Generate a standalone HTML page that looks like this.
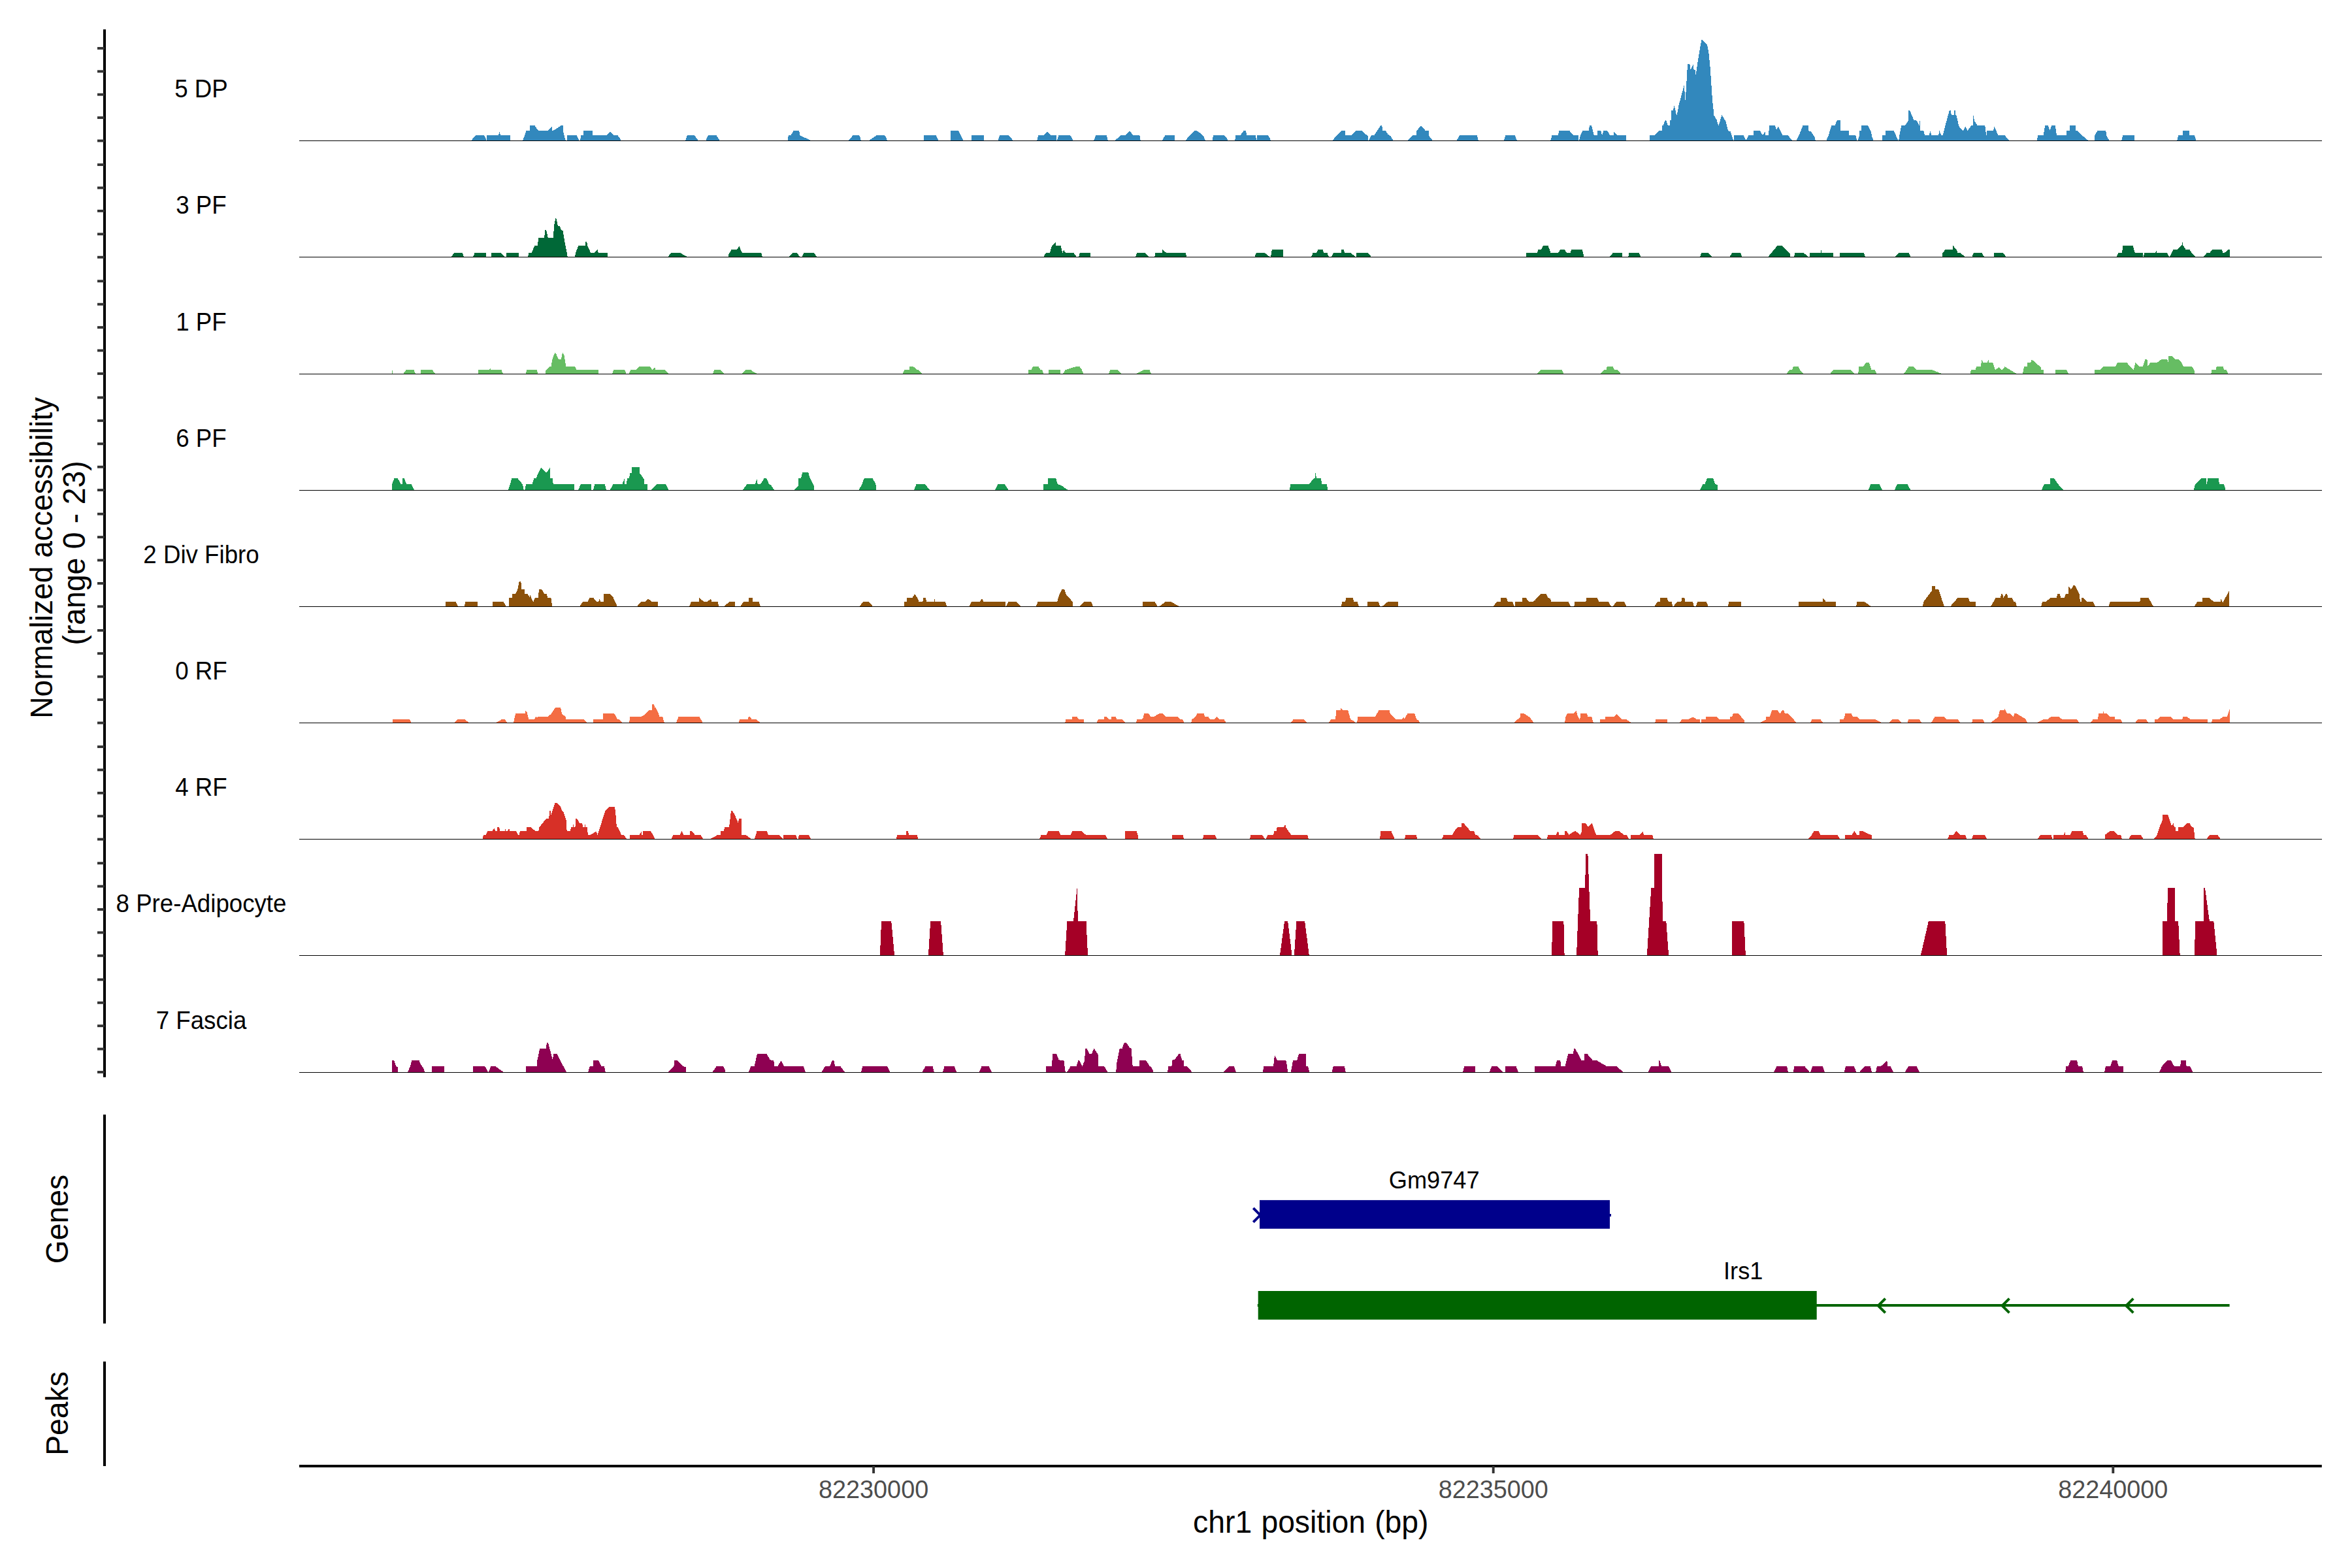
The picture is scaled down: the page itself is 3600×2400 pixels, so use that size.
<!DOCTYPE html>
<html><head><meta charset="utf-8"><title>Coverage plot</title>
<style>html,body{margin:0;padding:0;background:#fff}svg{display:block}</style></head>
<body>
<svg width="3600" height="2400" viewBox="0 0 3600 2400">
<rect width="3600" height="2400" fill="#fff"/>
<path d="M720.9,215.5 727.8,207.3 741.3,207.3 743.4,211.4 743.9,215.5ZM745.2,215.5 745.2,207.3 763,207.3 764.3,201.2 766.3,207.3 780.9,207.3 780.9,215.5ZM800,215.5 805.6,200.2 811.2,200.2 811.2,192.3 818.4,192.3 824,200.2 838.8,200.2 844.6,194.3 844.6,200.2 846.4,200.2 858.7,192.3 861.5,192.3 862.5,203.3 865.8,215.5ZM868.1,215.5 868.1,207.3 882.9,207.3 886.7,215.5ZM888,215.5 889.3,207.3 893.1,207.3 893.1,200.2 906.6,200.2 906.6,207.3 928.8,207.3 933.7,201.5 939.5,207.3 945.4,207.3 948.5,210.9 951,215.5ZM1049.2,215.5 1051.8,207.3 1063.3,207.3 1068.9,215.5ZM1080.1,215.5 1083.7,207.3 1096.4,207.3 1102,215.5ZM1206.1,215.5 1206.6,207.3 1210.5,207.3 1214.3,200.2 1223.2,200.2 1224.5,207.3 1242.3,215.5ZM1298,215.5 1305.6,207.3 1315.1,207.3 1316.8,210.9 1317.9,215.5ZM1329.1,215.5 1341.8,207.3 1354.1,207.3 1356.6,210.9 1357.9,215.5ZM1414,215.5 1414,207.3 1432.4,207.3 1434.7,210.9 1437,215.5ZM1455.1,215.5 1455.1,200.2 1467.3,200.2 1471.4,208.4 1475,215.5ZM1487.2,215.5 1487.2,207.3 1505.6,207.3 1505.6,215.5ZM1527.3,215.5 1530.1,207.3 1544.1,207.3 1548.5,212.2 1551,215.5ZM1587.2,215.5 1589.3,207.3 1596.9,207.3 1602.6,201.5 1608.4,207.3 1616.6,207.3 1616.6,215.5ZM1617.9,215.5 1620.4,207.3 1638.3,207.3 1642.9,215.5ZM1674,215.5 1677.3,207.3 1693.9,207.3 1695.9,215.5ZM1705.9,215.5 1715.6,207.3 1722.4,207.3 1728.8,200.2 1734.7,207.3 1744.4,207.3 1745.7,215.5ZM1778.8,215.5 1783.2,207.3 1797.7,207.3 1797.7,215.5ZM1813.8,215.5 1827.8,200.2 1831.6,200.2 1836.7,203.3 1842.3,208.4 1844.9,215.5ZM1855.6,215.5 1857.1,207.3 1874.2,207.3 1878.1,212.2 1879.8,215.5ZM1890.1,215.5 1891.3,207.3 1898.5,207.3 1903.6,200.2 1906.9,200.2 1908.7,207.3 1922.2,207.3 1922.7,213.5 1924,213.5 1924,207.3 1941.3,207.3 1943.9,212.2 1944.9,215.5ZM2038.8,215.5 2052.8,200.2 2058.7,200.2 2058.7,207.3 2068.1,207.3 2075.8,200.2 2084.7,200.2 2093.6,208.4 2094.1,215.5ZM2094.9,215.5 2098.7,207.3 2103.3,207.3 2113.3,192.3 2115.3,192.3 2116.6,200.2 2120.9,200.2 2124.2,205.3 2128.6,208.4 2132.7,215.5ZM2153.6,215.5 2162.5,207.3 2168.1,207.3 2168.1,200.2 2175.3,192.3 2182.1,200.2 2186.7,200.2 2186.7,207.3 2193.1,215.5ZM2229.3,215.5 2233.9,207.3 2260.7,207.3 2262.8,215.5ZM2302,215.5 2304.1,207.3 2318.9,207.3 2321.9,215.5ZM2373,215.5 2375.5,207.3 2384.4,207.3 2386.5,200.2 2402.3,200.2 2407.4,206.3 2412.5,207.3 2415.6,207.3 2415.6,215.5ZM2416.8,215.5 2418.9,207.3 2422.2,200.2 2431.6,200.2 2432.9,192.3 2436,192.3 2439.8,207.3 2444.9,207.3 2444.9,200.2 2450,200.2 2450,200.2 2450.8,200.7 2452,207.3 2454.3,200.2 2459.4,200.2 2461.5,202.2 2464.5,207.3 2469.9,207.3 2469.9,201.2 2476,207.3 2488.8,207.3 2488.8,215.5ZM2525.3,215.5 2525.3,207.3 2532.1,207.3 2538.8,200.2 2544.1,200.2 2544.1,192.3 2545.7,192.3 2548.7,184.1 2550,184.1 2553.1,192.3 2556.1,192.3 2556.1,184.4 2558.2,184.4 2558.2,169.3 2561,169.3 2562.2,161.9 2562.8,161.9 2566.1,176.2 2566.8,176.2 2569.6,160.7 2577.6,131.1 2578.1,131.1 2579.1,153.3 2579.8,153.3 2581.4,126.5 2582.1,112.7 2583.2,98.2 2585.7,98.2 2586.7,99.2 2587.2,106.3 2588,106.3 2591.1,99.2 2591.8,99.2 2592.1,106.3 2593.9,106.6 2594.9,107.6 2595.2,114.2 2595.9,114.2 2598.2,96.4 2604.3,61.2 2605.4,61.2 2612.8,68.3 2615.1,78.5 2617.3,98.9 2619.1,124.9 2620.9,152.2 2623.5,176.7 2627.3,182.8 2630.4,192.3 2635.5,176.2 2641.3,185.4 2645.2,200.2 2648.5,201.2 2651.5,209.6 2653.3,215.5ZM2654.1,215.5 2654.1,207.3 2668.6,207.3 2672.4,214.7 2676.5,207.3 2684.2,207.3 2684.2,200.2 2694.1,200.2 2698,207.3 2701.3,201.5 2702.6,207.3 2706.9,207.3 2708.2,192.3 2717.1,192.3 2719.1,199.4 2721.7,193.6 2728.6,207.3 2737,207.3 2743.4,215.5ZM2749,215.5 2753.6,207.3 2759.4,192.3 2767.6,192.3 2767.6,200.2 2771.9,201.2 2777.3,209.6 2779.1,215.5ZM2795.2,215.5 2798.7,207.3 2803.3,192.3 2808.4,192.3 2811.7,184.4 2816.6,184.4 2816.6,200.2 2829.6,200.2 2829.6,207.3 2840.3,207.3 2842.3,215.5ZM2843.4,215.5 2846.2,207.3 2846.2,200.2 2849.2,200.2 2849.2,192.3 2859.4,192.3 2863.8,201.2 2865.3,209.6 2867.9,215.5ZM2881.1,215.5 2881.1,207.3 2886.2,207.3 2886.2,200.2 2898.5,200.2 2902,207.3 2905.4,215.5ZM2906.1,215.5 2907.9,203.3 2910.5,192.3 2915.6,192.3 2921.2,184.4 2921.2,169.3 2923.2,169.3 2929.6,184.4 2933.4,184.4 2937.8,192.3 2938.5,185.4 2939,200.2 2944.4,200.2 2946.2,207.3 2952.6,207.3 2954.3,200.2 2956.4,207.3 2967.1,207.3 2968.4,200.2 2971.7,207.3 2973.7,207.3 2978.6,187.9 2983.7,169.3 2985.7,169.3 2987,176.2 2990.8,176.2 2991.3,169.3 2992.9,169.3 2992.9,176.2 2994.6,176.7 2998,192.3 3000,196.1 3005.1,200.2 3008.2,193.6 3011.5,200.2 3017.1,192.3 3019.9,192.3 3020.4,177 3022.4,185.4 3026.8,192.3 3038.3,192.3 3040.1,207.3 3041.3,207.3 3041.3,200.2 3051,200.2 3052.3,193.6 3058.7,207.3 3068.4,207.3 3076,215.5ZM3117.9,215.5 3119.1,207.3 3127.6,207.3 3130.1,192.3 3135.2,192.3 3137.2,200.2 3140.3,192.3 3145.9,192.3 3148,207.3 3163.3,207.3 3163.3,200.2 3168.4,200.2 3168.4,192.3 3176.5,192.3 3176.5,200.2 3179.3,200.2 3188.3,208.4 3196.9,215.5ZM3206.1,215.5 3206.1,207.3 3210.5,200.2 3223.2,200.2 3224.5,208.4 3228.8,215.5ZM3246.9,215.5 3249.5,207.3 3266.6,207.3 3266.6,215.5ZM3332.1,215.5 3334.2,207.3 3341.3,207.3 3341.3,200.2 3350.8,200.2 3350.8,207.3 3358.9,207.3 3361.7,215.5Z" fill="#3288BD" shape-rendering="crispEdges"/>
<line x1="458" x2="3553.8" y1="215.5" y2="215.5" stroke="#000" stroke-width="1" shape-rendering="crispEdges"/>
<path d="M690.8,393.5 694.6,387.4 708.2,387.4 709.9,393.5ZM724,393.5 726.5,387.4 743.6,387.4 743.6,393.5ZM752,393.5 752,387.4 766.8,387.4 773,393.5ZM775,393.5 775,387.4 793.6,387.4 793.6,393.5ZM807.7,393.5 809.4,387.4 813.3,387.4 818.4,376.2 822.7,376.2 824.2,364.2 833.2,364.2 834.2,352.4 836.2,352.4 838.8,364.2 846.9,364.2 848,346.1 850.3,334.1 851.5,334.8 854.1,346.1 857.1,346.6 859.2,352.4 861.5,353.2 863.3,364.2 866.1,379.2 868.9,393.5ZM880.1,393.5 880.9,387.4 885.2,376.2 896.2,376.2 896.2,370 898.2,370.5 899.5,376.7 904.3,387.4 909.2,387.4 914.5,382.3 915.8,387.4 929.8,387.4 929.8,393.5ZM1021.9,393.5 1027,387.4 1041.6,387.4 1052.6,393.5ZM1114.8,393.5 1115.6,388.9 1119.4,382.3 1127.6,382.3 1131.4,376.9 1136,387.4 1165.3,387.4 1166.8,393.5ZM1206.6,393.5 1213,387.4 1219.6,387.4 1225.3,393.5ZM1227.3,393.5 1230.4,387.4 1245.7,387.4 1251,393.5ZM1596.9,393.5 1600.8,387.4 1606.6,387.4 1610.2,376.2 1615.6,371.1 1615.6,376.2 1623.7,376.2 1626.3,387.4 1628.1,383 1632.1,387.4 1643.6,387.4 1648,393.5ZM1651,393.5 1652.6,387.4 1668.9,387.4 1668.9,393.5ZM1738,393.5 1740.3,387.4 1752.6,387.4 1758.9,393.5ZM1767.1,393.5 1768.4,387.4 1779.3,387.4 1779.3,382.3 1785.7,387.4 1814.5,387.4 1816.8,393.5ZM1920.2,393.5 1922.7,387.4 1936.2,387.4 1943.9,393.5ZM1944.9,393.5 1946.9,382.3 1963.5,382.3 1963.5,393.5ZM2006.9,393.5 2009.4,387.4 2014.5,387.4 2017.6,382.3 2024.7,382.3 2026.5,387.4 2031.6,387.4 2034.2,393.5ZM2038,393.5 2040.6,387.4 2053.3,387.4 2053.3,382.3 2057.1,382.3 2057.9,387.4 2068.1,387.4 2075,393.5ZM2076.3,393.5 2076.3,387.4 2094.4,387.4 2099.2,393.5ZM2336,393.5 2336,387.4 2353.1,387.4 2354.3,381.8 2358.9,381.8 2362.2,376.2 2369.6,376.2 2373.7,387.4 2384.4,387.4 2388.3,382.3 2394.6,382.3 2398.5,387.4 2404.1,387.4 2404.8,382.3 2421.9,382.3 2424.7,393.5ZM2462.8,393.5 2468.6,387.4 2482.7,387.4 2482.7,393.5ZM2492.1,393.5 2493.4,387.4 2508.7,387.4 2511.7,393.5ZM2601.8,393.5 2604.3,387.4 2615.3,387.4 2621.4,393.5ZM2647.2,393.5 2651,387.4 2664.3,387.4 2666.1,393.5ZM2705.9,393.5 2720.4,376.2 2728.1,376.2 2739.5,388.1 2739.5,393.5ZM2745.9,393.5 2747.2,387.4 2761.2,387.4 2768.4,393.5ZM2770.2,393.5 2770.2,387.4 2787.2,387.4 2787.5,383 2788.5,387.4 2805.9,387.4 2805.9,393.5ZM2816.1,393.5 2816.1,387.4 2853.1,387.4 2854.8,393.5ZM2899.7,393.5 2906.6,387.4 2921.9,387.4 2925,393.5ZM2973,393.5 2973.5,387.4 2977.3,382.3 2989,382.3 2989.5,376.2 2995.4,383 2995.9,387.4 3001,387.4 3008.2,393.5ZM3018.1,393.5 3020.7,387.4 3033.7,387.4 3037.2,393.5ZM3052.3,393.5 3052.3,387.4 3065.6,387.4 3071.4,393.5ZM3239,393.5 3242.3,387.4 3248,387.4 3249.2,376.2 3264.5,376.2 3267.9,387.4 3279.8,387.4 3279.8,393.5ZM3281.1,393.5 3281.9,387.4 3299.2,387.4 3300.3,383 3301,387.4 3317.1,387.4 3320.2,393.5ZM3320.9,393.5 3326.5,382.3 3332.4,382.3 3339.3,375.4 3340.6,371.1 3341.3,375.4 3345.7,382.3 3351.5,382.3 3355.1,387.4 3360.5,393.5ZM3371.7,393.5 3377.6,387.4 3382.1,387.4 3385.7,382.3 3401,382.3 3402.3,387.4 3404.3,387.4 3410.7,382.3 3412.8,382.3 3412.8,393.5Z" fill="#006837" shape-rendering="crispEdges"/>
<line x1="458" x2="3553.8" y1="393.5" y2="393.5" stroke="#000" stroke-width="1" shape-rendering="crispEdges"/>
<path d="M599.7,572.5 599.7,567.1 600.8,567.1 600.8,572.5ZM616.8,572.5 621.4,566.4 633.7,566.4 636,572.5ZM644.4,572.5 644.4,566.4 661.5,566.4 667.3,572.5ZM731.9,572.5 731.9,566.4 747.7,566.4 750.8,563.3 750.8,566.4 767.6,566.4 769.9,572.5ZM804.3,572.5 806.4,566.4 821.7,566.4 823.7,572.5ZM834.4,572.5 835.7,566.4 840.8,561.3 843.4,561.3 845.9,548 849.2,540.1 851,541.1 854.8,550.1 858.7,550.1 861.2,539.3 863.3,542.9 866.3,561.3 879.8,561.3 882.9,566.4 915.6,566.4 915.6,572.5ZM937,572.5 939,566.4 956.4,566.4 958.7,572.5ZM962,572.5 965.3,566.4 973.5,566.4 978.6,561.3 995.2,561.3 998.2,565.9 1003.3,562 1003.3,566.4 1018.1,566.4 1024.5,572.5ZM1090.8,572.5 1093.4,566.4 1103.1,566.4 1109.2,572.5ZM1134.9,572.5 1141.3,566.4 1150,566.4 1150,567.1 1159.4,572.5ZM1381.6,572.5 1384.2,566.4 1391.8,566.4 1391.8,561.3 1398.2,561.3 1403.8,566.4 1406.4,566.4 1412.2,572.5ZM1574,572.5 1574,566.4 1578.6,566.4 1580.6,561.3 1589.5,561.3 1592.6,565.9 1595.2,566.4 1597.7,572.5ZM1605.4,572.5 1605.4,566.4 1622.7,566.4 1622.7,572.5ZM1627,572.5 1630.1,566.4 1646.2,561.3 1652.6,561.3 1655.1,564.6 1658.9,572.5ZM1697.2,572.5 1699,566.4 1710.5,566.4 1717.1,572.5ZM1738,572.5 1750,566.4 1750,566.4 1759.7,566.4 1762,572.5ZM2351.8,572.5 2357.7,566.4 2390.8,566.4 2393.9,572.5ZM2449.5,572.5 2454.6,566.4 2458.4,566.4 2459.7,561.3 2468.6,561.3 2471.2,566.4 2475.8,566.4 2481.4,572.5ZM2733.9,572.5 2739,566.4 2742.9,566.4 2744.6,561.3 2752.6,561.3 2755.1,566.4 2760.7,572.5ZM2800.8,572.5 2805.9,566.4 2832.9,566.4 2839,572.5ZM2844.1,572.5 2845.4,561.3 2851.3,561.3 2856.4,555.2 2861,555.2 2864.8,566.4 2869.9,566.4 2873,572.5ZM2913.8,572.5 2921.4,561.3 2928.6,561.3 2934.2,566.4 2950,566.4 2950,566.4 2957.7,566.4 2973.5,572.5ZM3015.8,572.5 3016.8,566.4 3024,566.4 3024.7,561.3 3031.6,561.3 3033.4,551.1 3035.5,555.2 3041.1,555.2 3043.6,551.3 3043.6,555.2 3050.3,555.2 3054.1,566.4 3059.7,562 3064.3,566.4 3068.6,561.3 3087.2,572.5ZM3095.9,572.5 3098,561.3 3103.1,561.3 3103.1,555.2 3108.2,555.2 3109.9,550.1 3123.5,562 3123.5,566.4 3127.8,566.4 3127.8,572.5ZM3145.9,572.5 3145.9,566.4 3163,566.4 3166.1,572.5ZM3205.9,572.5 3205.9,566.4 3214.5,566.4 3219.6,561.3 3237.8,561.3 3240.8,555.2 3255.4,555.2 3265.6,566.4 3268.4,555.2 3275.3,561.3 3279.8,561.3 3283.4,550.1 3286.7,550.6 3286.7,561.3 3291.3,555.2 3301.5,555.2 3308.4,550.1 3317.3,550.1 3319.1,555.2 3319.1,544.9 3324.5,544.9 3329.3,550.1 3334.4,550.1 3337.8,553.1 3342.1,561.3 3355.1,561.3 3358.9,567.1 3358.9,572.5ZM3384.2,572.5 3385.5,566.4 3391.3,566.4 3392.6,561.3 3402.8,561.3 3404.1,566.4 3407.9,566.4 3411,572.5Z" fill="#66BD63" shape-rendering="crispEdges"/>
<line x1="458" x2="3553.8" y1="572.5" y2="572.5" stroke="#000" stroke-width="1" shape-rendering="crispEdges"/>
<path d="M599.7,750.5 599.7,741.8 603.6,732.1 608.7,732.1 613.8,741.3 615.8,741.3 616.3,732.1 618.9,732.1 622.2,741.3 629.6,741.3 632.1,745.7 634.2,750.5ZM777.8,750.5 780.9,741.3 783.4,732.1 792.3,732.1 800,741.3 801.8,750.5ZM803.1,750.5 805.1,741.3 814.5,741.3 817.3,732.1 820.4,732.1 828.1,715.3 836.5,723.5 841.6,716.3 841.6,732.1 845.9,732.1 846.7,741.3 878.6,741.3 878.6,750.5ZM884.9,750.5 888.8,741.3 904.6,741.3 904.6,750.5ZM907.9,750.5 910.2,741.3 925.8,741.3 928.1,750.5ZM933.4,750.5 938.5,741.3 952.3,741.3 955.6,732.9 955.6,741.3 958.9,741.3 959.9,732.1 963.3,732.1 964,723.5 967.1,723.5 967.1,715.3 978.6,715.3 978.6,723.5 985.5,732.9 985.5,741.3 991.3,741.3 991.3,750.5ZM996.4,750.5 1005.4,741.3 1018.9,741.3 1024,750.5ZM1136.7,750.5 1143.1,741.3 1150,741.3 1150,741.3 1155.6,741.3 1158.4,732.9 1159.7,741.3 1164,741.3 1169.6,732.1 1173,732.1 1177.3,741.3 1179.8,742.3 1185.2,750.5ZM1215.1,750.5 1222.2,743.1 1222.2,732.1 1225.8,732.1 1228.3,723.2 1237.2,723.2 1239.8,732.1 1244.4,740.6 1245.7,743.1 1245.7,750.5ZM1314,750.5 1319.1,741.8 1322.7,732.1 1335.7,732.1 1339.5,739.3 1340.8,743.1 1340.8,750.5ZM1398.7,750.5 1402.6,741.1 1415.3,741.1 1424.2,750.5ZM1523,750.5 1527.6,741.1 1537.8,741.1 1544.1,750.5ZM1596.9,750.5 1596.9,741.3 1604.1,741.3 1604.1,732.1 1616.1,732.1 1618.9,741.3 1624.5,743.1 1635.2,750.5ZM1974,750.5 1975,741.3 2003.8,741.3 2010.2,732.9 2012.8,732.1 2013.5,724 2015.3,732.1 2021.7,732.1 2023.5,741.3 2030.6,741.3 2032.7,750.5ZM2601.8,750.5 2606.4,741.3 2609.4,741.3 2612.8,732.1 2622.2,732.1 2625.5,741.3 2628.6,741.8 2628.6,750.5ZM2859.7,750.5 2863.3,741.3 2876.8,741.3 2881.1,750.5ZM2899.7,750.5 2903.6,741.3 2919.6,741.3 2924.7,750.5ZM3124.7,750.5 3128.6,741.3 3138.3,741.3 3138.3,732.1 3143.9,732.1 3150.8,741.8 3159.2,750.5ZM3357.7,750.5 3359.9,741.3 3369.6,732.1 3376.5,732.1 3376.5,741.3 3377.8,741.3 3379.3,732.1 3395.9,732.1 3396.9,741.3 3404.1,741.3 3405.9,746.9 3405.9,750.5Z" fill="#1A9850" shape-rendering="crispEdges"/>
<line x1="458" x2="3553.8" y1="750.5" y2="750.5" stroke="#000" stroke-width="1" shape-rendering="crispEdges"/>
<path d="M682.1,928.5 682.1,921.4 698,921.4 701,928.5ZM710.7,928.5 712.5,921.4 730.6,921.4 730.6,928.5ZM754.1,928.5 754.1,921.4 770.7,921.4 775,928.5ZM779.1,928.5 779.1,915.2 784.2,915.2 784.2,909.4 789,909.4 792.3,901.7 794.9,889.7 797.4,889.7 798,902.2 802.6,902.2 802.6,909.4 807.7,909.4 810.7,914.5 811,910.1 816.1,921.4 819.1,915.2 823.7,915.2 825,902.2 829.3,902.2 833.2,909.4 837,909.4 838.3,915.2 843.4,915.2 844.6,923.4 844.6,928.5ZM887.2,928.5 891.8,921.4 899.5,921.4 902.6,915.2 908.4,915.2 913.5,921.4 916.1,921.4 917.9,916.3 919.1,921.4 924.2,921.4 924.2,909.4 933.4,909.4 938.5,914.5 944.9,928.5ZM974.7,928.5 981.1,921.4 986.7,921.4 991.8,916.3 998.2,921.4 1006.6,921.4 1006.6,928.5ZM1055.1,928.5 1057.7,921.4 1069.6,921.4 1070.4,915.2 1078.1,921.4 1081.9,921.4 1088.3,916.3 1088.8,921.4 1098.5,921.4 1100.5,928.5ZM1107.4,928.5 1116.3,921.4 1125.3,921.4 1125.3,928.5ZM1132.9,928.5 1138,921.4 1145.7,921.4 1145.7,915.2 1150,915.2 1150,915.2 1151.8,915.2 1151.8,921.4 1161.5,921.4 1164,928.5ZM1315.1,928.5 1320.9,921.4 1330.4,921.4 1336.2,928.5ZM1384.2,928.5 1384.2,921.4 1387.8,921.4 1388.5,915.2 1396.2,915.2 1400,909.4 1403.8,914.5 1406.9,921.4 1412.2,921.4 1413.3,915.2 1416.6,915.2 1418.6,921.4 1429.3,921.4 1430.6,916.3 1430.6,921.4 1446.7,921.4 1449.7,928.5ZM1483.4,928.5 1486.7,921.4 1499.5,921.4 1502.8,916.3 1505.9,921.4 1538.5,921.4 1538.5,928.5ZM1539.8,928.5 1543.4,921.4 1556.1,921.4 1563.3,928.5ZM1585.7,928.5 1588.3,921.4 1618.1,921.4 1620.7,911.9 1625.3,902.2 1629.1,902.2 1632.1,910.6 1641.6,920.8 1641.6,928.5ZM1652.6,928.5 1658.9,921.4 1670.4,921.4 1673,928.5ZM1748.7,928.5 1748.7,921.4 1750,921.4 1750,921.4 1767.9,921.4 1771.7,928.5ZM1774.2,928.5 1783.2,921.4 1792.9,921.4 1805.4,928.5ZM2052.8,928.5 2054.1,921.4 2058.7,921.4 2060.5,915.2 2070.7,915.2 2072.7,921.4 2077.8,921.4 2079.8,928.5ZM2093.1,928.5 2093.1,921.4 2109.7,921.4 2112.8,928.5ZM2115.3,928.5 2123.7,921.4 2140.3,921.4 2140.3,928.5ZM2284.9,928.5 2291.3,921.4 2297.2,921.4 2297.2,915.2 2306.1,915.2 2307.9,921.4 2315.1,921.4 2318.1,928.5ZM2318.9,928.5 2318.9,921.4 2329.8,921.4 2330.4,915.2 2335.5,915.2 2340.6,921.4 2345.7,921.4 2350,918.3 2350,917.8 2357.7,909.4 2366.6,909.4 2369.9,915.2 2372.4,915.7 2374.7,921.4 2400.5,921.4 2404.3,928.5ZM2409.2,928.5 2410.5,921.4 2427.3,921.4 2428.3,915.2 2444.4,915.2 2447.7,921.4 2462.2,921.4 2466.1,928.5ZM2467.9,928.5 2474.2,921.4 2486,921.4 2489.8,928.5ZM2531.9,928.5 2537,921.4 2540.8,921.4 2541.3,915.2 2551.5,915.2 2554.1,921.4 2559.2,921.4 2559.9,928.5ZM2561,928.5 2566.8,921.4 2573.2,921.4 2574.5,915.2 2578.3,915.2 2579.6,921.4 2591.1,921.4 2592.9,928.5ZM2595.7,928.5 2598.2,921.4 2612,921.4 2614.8,928.5ZM2644.6,928.5 2646.4,921.4 2664.5,921.4 2664.5,928.5ZM2753.1,928.5 2753.1,921.4 2790.1,921.4 2790.1,915 2795.2,921.4 2809.7,921.4 2809.7,928.5ZM2841.1,928.5 2842.3,921.4 2854.3,921.4 2864,928.5ZM2943.1,928.5 2943.9,921.4 2950,913.2 2950,913.2 2956.9,904.3 2956.9,896.6 2961.5,896.6 2962,902.2 2967.3,902.2 2972.4,918.3 2976,928.5ZM2984.9,928.5 2996.4,915.2 3013,915.2 3015.1,921.4 3024,921.4 3024,928.5ZM3046.9,928.5 3054.6,915.2 3062.2,915.2 3062.8,909.4 3065.3,909.4 3066.1,915.2 3069.9,909.4 3072.4,909.4 3073,915.2 3079.6,915.2 3082.7,921.4 3085.2,921.4 3087,928.5ZM3124,928.5 3126,921.4 3130.6,921.4 3138.8,915.2 3147.7,915.2 3149,909.4 3152.8,909.4 3154.6,915.2 3159.7,915.2 3161.7,909.4 3166.1,909.4 3166.1,897.1 3169.9,902.2 3173.7,896.1 3175.8,896.1 3182.9,909.4 3183.9,921.4 3185.5,921.4 3186,915.2 3188.5,915.2 3194.9,921.4 3203.8,921.4 3207.1,928.5ZM3227.3,928.5 3229.8,921.4 3275.3,921.4 3276.5,915.2 3288.5,915.2 3291.8,920.8 3296.2,928.5ZM3358.2,928.5 3363.3,921.4 3370.9,921.4 3371.4,915.2 3381.1,915.2 3389.3,921.4 3399,921.4 3399,916.3 3402.3,922.1 3411.7,905 3411.7,928.5Z" fill="#8C510A" shape-rendering="crispEdges"/>
<line x1="458" x2="3553.8" y1="928.5" y2="928.5" stroke="#000" stroke-width="1" shape-rendering="crispEdges"/>
<path d="M601,1106.5 601,1101.1 627.3,1101.1 629.8,1106.5ZM694.9,1106.5 700.5,1101.1 712,1101.1 717.6,1106.5ZM758.7,1106.5 768.1,1101.1 772.4,1101.1 777,1106.5ZM786,1106.5 789,1092.2 803.8,1092.2 804.3,1087.4 806.4,1089.7 809.4,1101.1 817.3,1101.1 820.4,1097.3 821.2,1098.1 823,1097.3 837.5,1097.3 843.4,1093 849.7,1083.3 858.2,1083.3 859.9,1092.2 865.6,1097.3 866.3,1101.1 893.1,1101.1 899,1106.5ZM907.9,1106.5 907.9,1101.1 923.2,1101.1 923.2,1092.2 940.3,1092.2 945.4,1101.1 948,1101.1 953.1,1106.5ZM962.8,1106.5 964.5,1097.3 979.8,1097.3 986.7,1094.3 991.3,1089.2 993.1,1087.1 997.7,1087.1 998.2,1078.4 1001,1078.4 1002.3,1082.8 1003.6,1082.8 1007.9,1091.7 1009.2,1097.3 1014.3,1097.3 1016.8,1106.5ZM1034.7,1106.5 1038.5,1097.3 1070.4,1097.3 1074.2,1103.2 1076,1106.5ZM1130.4,1106.5 1132.4,1101.1 1144.4,1101.1 1145.7,1097.3 1148.2,1097.3 1150,1099.4 1150,1101.1 1157.7,1101.1 1164,1106.5ZM1630.1,1106.5 1631.6,1101.1 1641.1,1101.1 1641.1,1097.3 1648.7,1097.3 1651.3,1101.1 1658.9,1101.1 1658.9,1106.5ZM1678.1,1106.5 1681.1,1101.1 1690.3,1101.1 1690.3,1097.3 1693.4,1097.3 1697.2,1101.1 1700.5,1101.1 1701,1097.3 1708.2,1097.3 1709.2,1101.1 1717.6,1101.1 1723.2,1106.5ZM1738.8,1106.5 1740.6,1101.1 1746.9,1101.1 1750,1098.8 1750,1097.3 1751.3,1092.2 1758.2,1092.2 1761.5,1097.3 1765.8,1097.3 1774.2,1092.2 1780.1,1092.2 1785.2,1097.3 1802.3,1097.3 1806.6,1101.1 1809.9,1101.1 1813,1106.5ZM1823.2,1106.5 1824.5,1101.1 1830.4,1096.8 1832.1,1092.2 1843.1,1092.2 1843.9,1097.3 1849.5,1097.3 1852,1101.1 1858.4,1101.1 1862.8,1096.8 1866.1,1101.1 1873.7,1101.1 1876.8,1106.5ZM1975.8,1106.5 1979.6,1101.1 1995.4,1101.1 2001.3,1106.5ZM2032.7,1106.5 2037.8,1101.1 2044.1,1101.1 2045.2,1087.4 2052.3,1087.4 2052.3,1084.1 2055.4,1087.4 2063.3,1087.4 2067.1,1101.1 2071.9,1103.2 2075.3,1106.5ZM2077,1106.5 2078.3,1097.3 2104.6,1097.3 2110.5,1087.1 2127,1087.1 2127.6,1092.2 2136.5,1101.1 2144.9,1101.1 2148.5,1098.1 2148.7,1101.9 2154.3,1092.2 2165.1,1092.2 2168.4,1101.1 2172.2,1103.2 2172.7,1106.5ZM2316.8,1106.5 2321.4,1101.9 2324,1100.6 2327.3,1096.8 2327.3,1092.2 2332.9,1092.2 2341.8,1098.1 2347.7,1106.5ZM2395.2,1106.5 2395.9,1098.1 2399.2,1092.2 2408.2,1092.2 2412.5,1087.9 2415.1,1096.8 2418.4,1101.9 2418.9,1092.2 2429.1,1092.2 2430.4,1097.3 2436.2,1097.3 2438.8,1106.5ZM2449,1106.5 2449,1101.1 2457.1,1101.1 2457.1,1097.3 2470.7,1097.3 2474.5,1093 2482.1,1101.1 2489,1101.1 2497.2,1106.5ZM2533.2,1106.5 2534.2,1101.1 2551.5,1101.1 2551.5,1106.5ZM2570.7,1106.5 2574.5,1101.1 2583.4,1101.1 2591.1,1097.3 2597.4,1101.1 2601.8,1101.1 2601.8,1106.5ZM2604.3,1106.5 2604.3,1101.1 2611,1101.1 2611.5,1097.3 2628.1,1097.3 2631.9,1101.1 2647.7,1101.1 2648.5,1097.3 2651,1097.3 2652.8,1092.2 2660.5,1092.2 2669.6,1101.9 2669.6,1106.5ZM2692.6,1106.5 2702.8,1101.9 2703.3,1097.3 2708.9,1097.3 2712.2,1087.1 2720.7,1087.1 2724.2,1092.2 2728.3,1087.1 2730.1,1087.1 2732.1,1092.2 2737.2,1092.2 2750,1106.5ZM2770.9,1106.5 2773.5,1101.1 2786.2,1101.1 2790.8,1106.5ZM2816.1,1106.5 2816.1,1101.1 2821.9,1101.1 2824.5,1092.2 2833.4,1092.2 2836,1097.3 2842.3,1097.3 2846.2,1101.1 2870.4,1101.1 2881.4,1106.5ZM2891.6,1106.5 2895.9,1101.1 2905.6,1101.1 2911.2,1106.5ZM2920.2,1106.5 2920.7,1101.1 2938,1101.1 2941.1,1106.5ZM2955.6,1106.5 2961.5,1097.3 2975.5,1097.3 2979.3,1101.1 2996.4,1101.1 3001,1106.5ZM3018.1,1106.5 3019.4,1101.1 3034.7,1101.1 3038,1106.5ZM3046.4,1106.5 3058.4,1097.3 3061,1087.4 3067.9,1087.4 3068.1,1084.1 3071.9,1092.2 3076.3,1092.2 3082.1,1097.3 3083.2,1092.2 3086.5,1092.2 3100.5,1100.6 3103.1,1106.5ZM3117.6,1106.5 3127.8,1101.1 3134.2,1101.1 3138.8,1097.3 3151.5,1097.3 3156.6,1101.1 3178.3,1101.1 3183.4,1106.5ZM3199.5,1106.5 3203.8,1101.1 3211,1101.1 3212.2,1092.2 3219.1,1092.2 3219.4,1087.9 3219.9,1092.2 3224.2,1092.2 3229.8,1096.8 3236.5,1097.3 3237,1101.1 3245.9,1101.1 3249,1106.5ZM3267.6,1106.5 3272.7,1101.1 3284.2,1101.1 3289.3,1106.5ZM3298.2,1106.5 3298.2,1101.1 3302.8,1101.1 3305.9,1097.3 3322.4,1097.3 3326.3,1101.1 3340.3,1101.1 3341.1,1097.3 3348,1097.3 3352.6,1101.1 3378.6,1101.1 3378.6,1106.5ZM3384.9,1106.5 3386.2,1101.1 3397.7,1101.1 3402,1097.3 3408.7,1097.3 3412.5,1086.1 3412.5,1106.5Z" fill="#F46D43" shape-rendering="crispEdges"/>
<line x1="458" x2="3553.8" y1="1106.5" y2="1106.5" stroke="#000" stroke-width="1" shape-rendering="crispEdges"/>
<path d="M738.8,1284.5 739.8,1278.4 743.9,1277.9 746.4,1272 753.3,1272 756.4,1267.7 758.4,1272 761,1272 761.5,1266.1 764,1266.1 765.6,1272 773,1272 773.2,1267.4 774,1272 777,1272 779.1,1267.4 780.6,1272 789.8,1272 793.4,1278.4 794.6,1278.4 795.9,1272 806.1,1272 806.1,1266.1 812,1266.1 819.6,1272 824.2,1272 825.5,1266.1 835.7,1253.4 840.1,1253.4 841.3,1241.4 842.6,1241.4 843.1,1247.8 849.5,1229.1 852.8,1229.1 857.9,1234.2 859.7,1240.1 862.2,1242.2 866.8,1255.4 867.6,1272 872.4,1272 874.5,1266.1 877,1266.1 877.6,1261 878.3,1266.1 880.4,1266.1 881.4,1253.4 883.4,1253.4 887.2,1260 891.1,1260.5 892.3,1265.6 894.9,1265.6 895.4,1261 896.2,1265.6 898.7,1266.1 900,1278.4 903.8,1277.9 911.5,1273.3 912.8,1273.3 914.5,1278.4 926.3,1241.4 932.7,1235 940.8,1235 942.1,1242.7 943.9,1266.1 945.9,1266.1 951,1277.9 954.8,1278.4 959.9,1284.5ZM964.3,1284.5 964.3,1277.9 978.6,1277.9 981.6,1272.8 982.4,1277.9 983.7,1277.9 984.2,1272 995.7,1272 998.2,1275.8 1002.6,1284.5ZM1027,1284.5 1030.6,1277.9 1040.3,1277.9 1043.6,1272 1046.7,1277.9 1056.1,1277.9 1056.4,1272 1058.9,1272 1063.8,1277.9 1072.2,1277.9 1076.5,1284.5ZM1086.2,1284.5 1097.7,1278.4 1102.8,1277.9 1103.3,1272 1107.9,1272 1109.2,1266.1 1116.1,1266.1 1118.9,1241.4 1120.7,1241.4 1124.5,1246.5 1129.6,1259.2 1131.4,1253.4 1134.7,1253.4 1134.7,1277.9 1140.3,1277.9 1144.9,1280.2 1150,1284.5ZM1154.6,1284.5 1156.9,1278.4 1158.4,1272 1173.7,1272 1176,1277.9 1192.6,1277.9 1198.5,1284.5ZM1199.2,1284.5 1199.2,1277.9 1218.1,1277.9 1220.2,1284.5ZM1221.4,1284.5 1223.2,1277.9 1238,1277.9 1241.1,1284.5ZM1371.9,1284.5 1373.2,1277.9 1386.5,1277.9 1386.5,1272 1389.5,1272 1391.6,1277.9 1404.3,1277.9 1404.8,1284.5ZM1591.1,1284.5 1593.6,1277.9 1601.3,1277.9 1604.6,1272 1620.4,1272 1623.7,1277.9 1638.5,1277.9 1641.6,1272 1655.6,1272 1662,1277.9 1691.8,1277.9 1695.2,1284.5ZM1721.9,1284.5 1721.9,1272 1739.8,1272 1741.6,1278.4 1741.6,1284.5ZM1794.1,1284.5 1794.1,1277.9 1811.2,1277.9 1811.7,1284.5ZM1841.1,1284.5 1842.3,1277.9 1850,1277.9 1850,1277.9 1859.7,1277.9 1862.8,1284.5ZM1913,1284.5 1914.3,1277.9 1931.6,1277.9 1936.7,1284.5ZM1937.5,1284.5 1940.6,1277.9 1949,1277.9 1950.3,1272 1953.8,1272 1954.6,1266.1 1964.8,1266.1 1967.3,1261 1967.9,1266.1 1976.3,1277.9 2001,1277.9 2003.1,1284.5ZM2112,1284.5 2113.3,1272 2129.3,1272 2134.9,1284.5ZM2149.7,1284.5 2151.5,1277.9 2168.1,1277.9 2168.9,1284.5ZM2207.1,1284.5 2209.7,1277.9 2223,1277.9 2226.3,1272 2230.9,1266.1 2237.2,1266.1 2237.2,1260 2240.3,1260 2250.5,1272 2256.1,1272 2258.2,1277.9 2262,1278.9 2267.1,1284.5ZM2316.1,1284.5 2317.3,1277.9 2353.8,1277.9 2360.2,1284.5ZM2367.9,1284.5 2369.1,1277.9 2381.4,1277.9 2384.9,1272 2386.5,1277.9 2395.2,1277.9 2395.2,1272 2397.7,1272 2401.5,1277.9 2408.7,1272.8 2411.7,1272 2418.4,1277.9 2420.9,1273.3 2421.4,1260 2426.5,1260 2431.1,1265.6 2436.7,1260 2441.3,1273.3 2443.1,1277.9 2450,1277.9 2450,1277.9 2464.8,1277.9 2472.4,1272 2478.1,1272 2485.7,1277.9 2490.3,1278.4 2493.4,1284.5ZM2495.9,1284.5 2495.9,1277.9 2509.9,1277.9 2515.1,1272.8 2515.8,1277.9 2529.1,1277.9 2530.9,1284.5ZM2766.8,1284.5 2772.7,1278.4 2776.5,1272 2783.4,1272 2786.7,1277.9 2812.2,1277.9 2816.8,1284.5ZM2824.2,1284.5 2824.2,1277.9 2834.4,1277.9 2838.3,1272 2842.1,1277.9 2845.9,1277.9 2845.9,1272 2850.5,1272 2864.5,1278.4 2864.5,1284.5ZM2981.1,1284.5 2983.7,1277.9 2989.5,1277.9 2994.6,1272 3000.3,1277.9 3007.9,1277.9 3010.7,1284.5ZM3018.1,1284.5 3020.2,1277.9 3038,1277.9 3041.1,1284.5ZM3117.9,1284.5 3123.7,1277.9 3139.8,1277.9 3141.6,1284.5ZM3142.9,1284.5 3142.9,1277.9 3158.9,1277.9 3160.2,1273.3 3161.5,1277.9 3168.4,1277.9 3171.4,1272 3187.5,1272 3189.3,1277.9 3193.1,1278.4 3196.9,1284.5ZM3221.9,1284.5 3221.9,1277.9 3229.6,1272 3235.5,1272 3241.1,1277.9 3246.2,1277.9 3248,1284.5ZM3258.2,1284.5 3262,1277.9 3276.8,1277.9 3281.1,1284.5ZM3296.7,1284.5 3301.5,1278.4 3306.1,1264.3 3309.9,1255.4 3310.5,1247 3318.1,1247 3324,1264.3 3326.5,1260 3327.8,1265.6 3329.8,1266.1 3329.8,1272 3333.7,1272 3334.2,1266.1 3341.8,1266.1 3347.4,1260 3351.5,1260 3354.6,1265.6 3357.7,1266.9 3359.7,1284.5ZM3376.8,1284.5 3382.7,1277.9 3394.1,1277.9 3399.2,1284.5Z" fill="#D73027" shape-rendering="crispEdges"/>
<line x1="458" x2="3553.8" y1="1284.5" y2="1284.5" stroke="#000" stroke-width="1" shape-rendering="crispEdges"/>
<path d="M1346.9,1462.5 1349,1410.2 1364.3,1410.2 1369.1,1462.5ZM1420.9,1462.5 1424.2,1410.2 1440.1,1410.2 1443.9,1462.5ZM1630.1,1462.5 1633.4,1410.2 1642.9,1410.2 1648.5,1359.9 1650,1410.2 1662.5,1410.2 1665.1,1462.5ZM1958.9,1462.5 1966.1,1410.2 1971.2,1410.2 1977.6,1462.5ZM1980.9,1462.5 1984.4,1410.2 1997.2,1410.2 2003.8,1462.5ZM2375,1462.5 2376.3,1410.2 2393.4,1410.2 2394.6,1462.5ZM2413,1462.5 2417.1,1359.2 2426,1359.2 2427.3,1307.1 2430.4,1307.1 2434.2,1410.2 2444.4,1410.2 2445.7,1462.5ZM2520.9,1462.5 2527.3,1359.2 2532.1,1359.2 2532.1,1307.1 2543.6,1307.1 2544.9,1410.2 2550.3,1410.2 2554.1,1462.5ZM2651,1462.5 2651,1410.2 2669.4,1410.2 2671.9,1462.5ZM2939.8,1462.5 2951.8,1410.2 2977.3,1410.2 2980.1,1462.5ZM3309.9,1462.5 3309.9,1410.2 3316.8,1410.2 3318.1,1359.2 3328.6,1359.2 3329.1,1410.2 3334.2,1410.2 3336.7,1462.5ZM3358.9,1462.5 3360.2,1410.2 3373,1410.2 3373,1359.2 3375,1359.2 3381.9,1410.2 3388.3,1410.2 3393.6,1462.5Z" fill="#A50026" shape-rendering="crispEdges"/>
<line x1="458" x2="3553.8" y1="1462.5" y2="1462.5" stroke="#000" stroke-width="1" shape-rendering="crispEdges"/>
<path d="M600.3,1641.5 600.3,1622.6 602.8,1622.6 606.6,1632.3 608.7,1633.6 608.7,1641.5ZM624,1641.5 627.8,1632.3 630.4,1622.6 641.1,1622.6 644.9,1630.5 648.2,1634.9 650.3,1641.5ZM661,1641.5 661,1632.3 680.1,1632.3 680.1,1641.5ZM724.2,1641.5 724.2,1632.3 741.3,1632.3 743.9,1634.4 747.2,1641.5 751.5,1632.3 758.7,1632.3 771.4,1641.5ZM805.1,1641.5 805.1,1632.3 821.7,1632.3 822.4,1622.9 826.3,1604.5 835.7,1604.5 837,1595.6 839,1595.6 845.9,1622.9 847.2,1613.4 852.8,1613.4 867.1,1641.5ZM900,1641.5 902.6,1632.3 907.9,1632.3 908.4,1622.6 916.1,1622.6 920.4,1632.3 925,1632.3 926.8,1641.5ZM1021.9,1641.5 1031.4,1632.3 1032.1,1622.6 1036,1622.6 1046.2,1632.3 1049.5,1633.1 1049.5,1641.5ZM1090.1,1641.5 1096.4,1632.3 1107.4,1632.3 1109.9,1638.2 1109.9,1641.5ZM1145.2,1641.5 1149.5,1632.3 1150,1632.3 1150,1632.3 1154.6,1632.3 1158.9,1613.4 1173.7,1613.4 1178.8,1622.4 1184.4,1622.9 1184.9,1632.3 1190.3,1632.3 1195.4,1623.4 1200.3,1632.3 1229.8,1632.3 1232.9,1641.5ZM1257.1,1641.5 1262.8,1632.3 1269.9,1632.3 1274.2,1622.6 1276.3,1622.6 1278.1,1632.3 1286.5,1632.3 1293.4,1641.5ZM1317.6,1641.5 1320.4,1632.3 1357.9,1632.3 1363,1641.5ZM1411,1641.5 1416.6,1632.3 1427.6,1632.3 1429.8,1641.5ZM1442.9,1641.5 1445.4,1632.3 1460.7,1632.3 1464.3,1641.5ZM1498.2,1641.5 1502.6,1632.3 1513.5,1632.3 1518.1,1641.5ZM1601,1641.5 1601,1632.3 1609.9,1632.3 1611.2,1613.4 1617.3,1613.4 1620.7,1622.4 1628.3,1622.9 1630.9,1641.5ZM1632.9,1641.5 1638.5,1632.3 1647.4,1632.3 1650.5,1622.6 1652,1622.6 1656.4,1632.3 1660.2,1622.9 1661,1604.5 1663.3,1604.5 1667.9,1613.4 1671.2,1613.4 1674.2,1604.5 1680.6,1613.9 1681.1,1632.3 1690.3,1632.3 1695.9,1641.5ZM1708.2,1641.5 1709.2,1628 1713.8,1605 1717.6,1604.5 1720.9,1595.6 1723.5,1595.6 1729.1,1603.7 1731.6,1605 1733.7,1632.3 1743.9,1632.3 1743.9,1622.6 1750,1622.6 1750,1622.6 1753.8,1622.6 1759.7,1631.8 1762.8,1634.4 1765.8,1641.5ZM1787,1641.5 1788.3,1632.3 1793.4,1632.3 1794.6,1622.6 1798,1621.6 1804.3,1613.4 1806.6,1613.4 1809.2,1622.9 1811.7,1623.4 1812.5,1632.3 1816.8,1632.3 1825.3,1641.5ZM1871.9,1641.5 1880.9,1632.3 1889,1632.3 1892.1,1641.5ZM1932.9,1641.5 1934.2,1632.3 1949,1632.3 1951,1614.7 1954.8,1622.6 1968.1,1622.6 1969.9,1630.5 1971.2,1641.5ZM1975.8,1641.5 1979.1,1622.6 1985.2,1622.6 1988,1613.4 1998.7,1613.4 1999.2,1632.3 2002,1632.3 2004.6,1641.5ZM2038.3,1641.5 2040.8,1632.3 2057.9,1632.3 2059.9,1641.5ZM2239,1641.5 2241.1,1632.3 2257.7,1632.3 2257.7,1641.5ZM2279.3,1641.5 2283.2,1632.3 2291.3,1632.3 2300.5,1641.5ZM2304.1,1641.5 2304.1,1632.3 2320.7,1632.3 2324,1641.5ZM2348.7,1641.5 2348.7,1632.3 2350,1632.3 2350,1632.3 2380.6,1632.3 2383.2,1622.6 2388.3,1622.6 2389,1632.3 2395.4,1632.3 2400.3,1613.4 2407.9,1613.4 2409.2,1604.5 2411.2,1605 2420.2,1622.6 2424.7,1622.6 2425.3,1613.4 2429.6,1613.4 2437.5,1622.6 2443.1,1622.6 2459.7,1632.3 2474.5,1632.3 2485.2,1641.5ZM2522.2,1641.5 2526.8,1632.3 2538.8,1632.3 2539.3,1622.6 2540.8,1624.2 2543.1,1632.3 2554.1,1632.3 2558.7,1641.5ZM2714.8,1641.5 2719.1,1632.3 2735.2,1632.3 2737,1641.5ZM2744.9,1641.5 2746.2,1632.3 2762.5,1632.3 2770.2,1641.5ZM2770.9,1641.5 2774,1632.3 2790.1,1632.3 2793.1,1641.5ZM2822.7,1641.5 2825,1632.3 2837.8,1632.3 2841.8,1641.5ZM2845.7,1641.5 2853.8,1632.3 2862.8,1632.3 2865.3,1641.5ZM2870.9,1641.5 2873,1632.3 2878.6,1632.3 2888.3,1623.4 2889.5,1632.3 2893.9,1632.3 2898,1641.5ZM2915.8,1641.5 2920.7,1632.3 2933.7,1632.3 2938,1641.5ZM3161,1641.5 3162.2,1632.3 3165.6,1632.3 3169.4,1622.6 3179.1,1622.6 3180.9,1632.3 3187.2,1632.3 3189,1641.5ZM3220.9,1641.5 3223,1632.3 3230.1,1632.3 3233.2,1622.6 3240.1,1622.6 3242.9,1632.3 3249.7,1632.3 3249.7,1641.5ZM3305.1,1641.5 3308.9,1632.3 3317.3,1622.6 3322.4,1622.6 3328.1,1632.3 3337,1632.3 3338.5,1622.6 3345.4,1622.6 3346.7,1632.3 3352.3,1632.3 3356.9,1641.5Z" fill="#8E0152" shape-rendering="crispEdges"/>
<line x1="458" x2="3553.8" y1="1641.5" y2="1641.5" stroke="#000" stroke-width="1" shape-rendering="crispEdges"/>
<g stroke="#000" stroke-width="4.1" fill="none">
<line x1="160" x2="160" y1="45.1" y2="1648.8"/>
<line x1="160" x2="160" y1="1706" y2="2025.8"/>
<line x1="160" x2="160" y1="2084" y2="2244"/>
<line x1="458" x2="3553.8" y1="2244" y2="2244"/>
</g>
<g stroke="#333" stroke-width="3.9">
<line x1="149" x2="160" y1="215.5" y2="215.5"/>
<line x1="149" x2="160" y1="180.1" y2="180.1"/>
<line x1="149" x2="160" y1="144.7" y2="144.7"/>
<line x1="149" x2="160" y1="109.3" y2="109.3"/>
<line x1="149" x2="160" y1="73.9" y2="73.9"/>
<line x1="149" x2="160" y1="393.7" y2="393.7"/>
<line x1="149" x2="160" y1="358.3" y2="358.3"/>
<line x1="149" x2="160" y1="322.9" y2="322.9"/>
<line x1="149" x2="160" y1="287.5" y2="287.5"/>
<line x1="149" x2="160" y1="252.1" y2="252.1"/>
<line x1="149" x2="160" y1="571.9" y2="571.9"/>
<line x1="149" x2="160" y1="536.5" y2="536.5"/>
<line x1="149" x2="160" y1="501.1" y2="501.1"/>
<line x1="149" x2="160" y1="465.7" y2="465.7"/>
<line x1="149" x2="160" y1="430.3" y2="430.3"/>
<line x1="149" x2="160" y1="750.1" y2="750.1"/>
<line x1="149" x2="160" y1="714.7" y2="714.7"/>
<line x1="149" x2="160" y1="679.3" y2="679.3"/>
<line x1="149" x2="160" y1="643.9" y2="643.9"/>
<line x1="149" x2="160" y1="608.5" y2="608.5"/>
<line x1="149" x2="160" y1="928.3" y2="928.3"/>
<line x1="149" x2="160" y1="892.9" y2="892.9"/>
<line x1="149" x2="160" y1="857.5" y2="857.5"/>
<line x1="149" x2="160" y1="822.1" y2="822.1"/>
<line x1="149" x2="160" y1="786.7" y2="786.7"/>
<line x1="149" x2="160" y1="1106.5" y2="1106.5"/>
<line x1="149" x2="160" y1="1071" y2="1071"/>
<line x1="149" x2="160" y1="1035.7" y2="1035.7"/>
<line x1="149" x2="160" y1="1000.2" y2="1000.2"/>
<line x1="149" x2="160" y1="964.9" y2="964.9"/>
<line x1="149" x2="160" y1="1284.6" y2="1284.6"/>
<line x1="149" x2="160" y1="1249.2" y2="1249.2"/>
<line x1="149" x2="160" y1="1213.8" y2="1213.8"/>
<line x1="149" x2="160" y1="1178.4" y2="1178.4"/>
<line x1="149" x2="160" y1="1143" y2="1143"/>
<line x1="149" x2="160" y1="1462.8" y2="1462.8"/>
<line x1="149" x2="160" y1="1427.4" y2="1427.4"/>
<line x1="149" x2="160" y1="1392" y2="1392"/>
<line x1="149" x2="160" y1="1356.6" y2="1356.6"/>
<line x1="149" x2="160" y1="1321.2" y2="1321.2"/>
<line x1="149" x2="160" y1="1641" y2="1641"/>
<line x1="149" x2="160" y1="1605.6" y2="1605.6"/>
<line x1="149" x2="160" y1="1570.2" y2="1570.2"/>
<line x1="149" x2="160" y1="1534.8" y2="1534.8"/>
<line x1="149" x2="160" y1="1499.4" y2="1499.4"/>
<line x1="1337.1" x2="1337.1" y1="2244" y2="2255.1"/>
<line x1="2285.7" x2="2285.7" y1="2244" y2="2255.1"/>
<line x1="3234.3" x2="3234.3" y1="2244" y2="2255.1"/>
</g>
<g font-family="'Liberation Sans',sans-serif" fill="#000" text-anchor="middle">
<text transform="translate(308,149) scale(1,1.04)" font-size="36.67">5 DP</text>
<text transform="translate(308,327) scale(1,1.04)" font-size="36.67">3 PF</text>
<text transform="translate(308,506) scale(1,1.04)" font-size="36.67">1 PF</text>
<text transform="translate(308,684) scale(1,1.04)" font-size="36.67">6 PF</text>
<text transform="translate(308,862) scale(1,1.04)" font-size="36.67">2 Div Fibro</text>
<text transform="translate(308,1040) scale(1,1.04)" font-size="36.67">0 RF</text>
<text transform="translate(308,1218) scale(1,1.04)" font-size="36.67">4 RF</text>
<text transform="translate(308,1396) scale(1,1.04)" font-size="36.67">8 Pre-Adipocyte</text>
<text transform="translate(308,1575) scale(1,1.04)" font-size="36.67">7 Fascia</text>
<text transform="translate(80,853.8) rotate(-90) scale(1,1.04)" font-size="46.1">Normalized accessibility</text>
<text transform="translate(130,846.5) rotate(-90) scale(1,1.04)" font-size="46.3" word-spacing="0.55">(range 0 - 23)</text>
<text transform="translate(104,1866) rotate(-90) scale(1,1.04)" font-size="46.3">Genes</text>
<text transform="translate(104,2163.5) rotate(-90) scale(1,1.04)" font-size="46.3">Peaks</text>
<text transform="translate(2006.3,2345.5) scale(1,1.04)" font-size="46.3" word-spacing="1.4">chr1 position (bp)</text>
<text transform="translate(2195.2,1819.3) scale(1,1.04)" font-size="36.2">Gm9747</text>
<text transform="translate(2668.2,1958.2) scale(1,1.04)" font-size="36.2">Irs1</text>
</g>
<g font-family="'Liberation Sans',sans-serif" fill="#4D4D4D" text-anchor="middle">
<text transform="translate(1337.1,2293) scale(1,1.04)" font-size="37.8">82230000</text>
<text transform="translate(2285.7,2293) scale(1,1.04)" font-size="37.8">82235000</text>
<text transform="translate(3234.3,2293) scale(1,1.04)" font-size="37.8">82240000</text>
</g>
<g stroke="#00008B" stroke-width="4" fill="none" stroke-linejoin="round">
<line x1="1929" x2="2466" y1="1859.9" y2="1859.9"/>
<path d="M1918.3,1849.2L1929,1859.9L1918.3,1870.6"/>
</g>
<rect x="1928" y="1836.9" width="536" height="43.8" fill="#00008B"/>
<g stroke="#006400" stroke-width="4" fill="none" stroke-linejoin="round">
<line x1="1924.8" x2="3412.6" y1="1998" y2="1998"/>
<path d="M2885.7,1987.6L2874.8,1998.5L2885.7,2009.4"/>
<path d="M3075.5,1987.6L3064.6,1998.5L3075.5,2009.4"/>
<path d="M3265.3,1987.6L3254.4,1998.5L3265.3,2009.4"/>
</g>
<rect x="1925.7" y="1976" width="855" height="43.8" fill="#006400"/>
</svg>
</body></html>
